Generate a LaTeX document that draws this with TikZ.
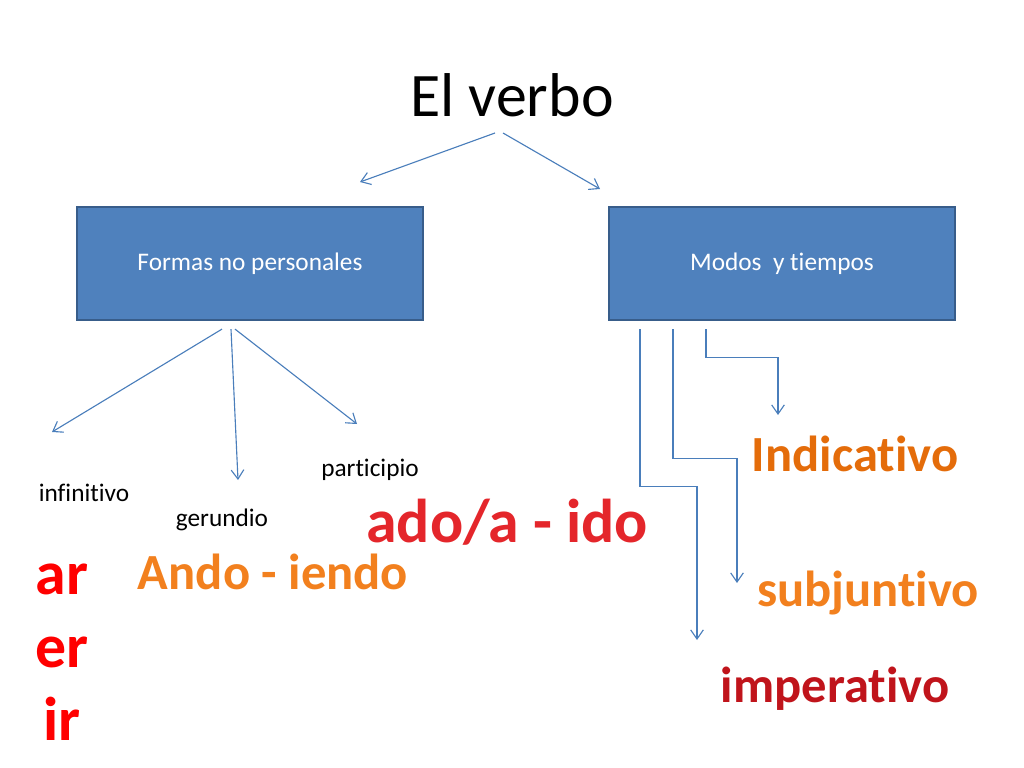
\documentclass[tikz,border=0pt]{standalone}
\usepackage{fontspec}
\setmainfont{Carlito}[Ligatures={NoCommon}]
\usetikzlibrary{arrows.meta,positioning}
\definecolor{boxfill}{HTML}{4F81BD}
\definecolor{boxline}{HTML}{385D8A}
\definecolor{linkblue}{HTML}{4A7EBB}
\definecolor{redword}{HTML}{E4262B}
\definecolor{orangeword}{HTML}{E46C0A}
\definecolor{lightorange}{HTML}{F2801E}
\definecolor{darkred}{HTML}{C0141B}

\begin{document}
\begin{tikzpicture}[
    x=0.025cm, y=-0.025cm,
    box/.style={draw=boxline, line width=1.4pt, fill=boxfill, text=white, minimum width=8.65cm, minimum height=2.83cm, font=\fontsize{18}{22}\selectfont},
    lbl/.style={anchor=base, inner sep=0pt, font=\fontsize{18}{22}\selectfont},
    big/.style={anchor=base, inner sep=0pt, font=\bfseries\fontsize{44}{53}\selectfont},
    mid/.style={anchor=base, inner sep=0pt, font=\bfseries\fontsize{36}{43}\selectfont},
    arr/.style={-{Straight Barb[length=6.5pt, width=9pt]}, draw=linkblue, line width=0.8pt},
  ]
  \useasboundingbox (0,0) rectangle (1024,768);

  % title and the two groups
  \node[anchor=base, inner sep=0pt, font=\fontsize{44}{53}\selectfont] (title) at (512,117) {El verbo};
  \node[box] (formas) at (250,263.5) {Formas no personales};
  \node[box] (modos) at (782,263.5) {Modos\ \ y tiempos};

  \coordinate (tl) at (360,182);
  \coordinate (tr) at (600,189);
  \draw[arr] ([shift={(-17,16)}]title.base) -- (tl);
  \draw[arr] ([shift={(-9,16)}]title.base) -- (tr);

  % formas no personales
  \node[lbl] (infinitivo) at (84,501) {infinitivo};
  \node[lbl] (gerundio) at (222,526) {gerundio};
  \node[lbl] (participio) at (370,476) {participio};

  \coordinate (inf) at (52,432);
  \coordinate (ger) at (238,480);
  \coordinate (par) at (357,424);
  \draw[arr] ([shift={(-28,8)}]formas.south) -- (inf);
  \draw[arr] ([shift={(-19,8)}]formas.south) -- (ger);
  \draw[arr] ([shift={(-15,8)}]formas.south) -- (par);

  \node[big, text=redword] (ado) at (507,542) {ado/a - ido};
  \node[mid, text=lightorange] (ando) at (273,589) {Ando - iendo};
  \node[big, text=red] (ar) at (62,594) {ar};
  \node[big, text=red] (er) at (62,667) {er};
  \node[big, text=red] (ir) at (62,740) {ir};

  % modos y tiempos
  \node[mid, text=orangeword] (indicativo) at (855,471) {Indicativo};
  \node[mid, text=lightorange] (subjuntivo) at (868,606) {subjuntivo};
  \node[mid, text=darkred] (imperativo) at (835,702) {imperativo};

  \coordinate (ind) at (778,415);
  \coordinate (sub) at (737,583);
  \coordinate (imp) at (697,640);
  \draw[arr] ([shift={(-76,8)}]modos.south) -- ++(0,28) -| (ind);
  \draw[arr] ([shift={(-109,8)}]modos.south) -- ++(0,129) -| (sub);
  \draw[arr] ([shift={(-142,8)}]modos.south) -- ++(0,157) -| (imp);
\end{tikzpicture}
\end{document}
